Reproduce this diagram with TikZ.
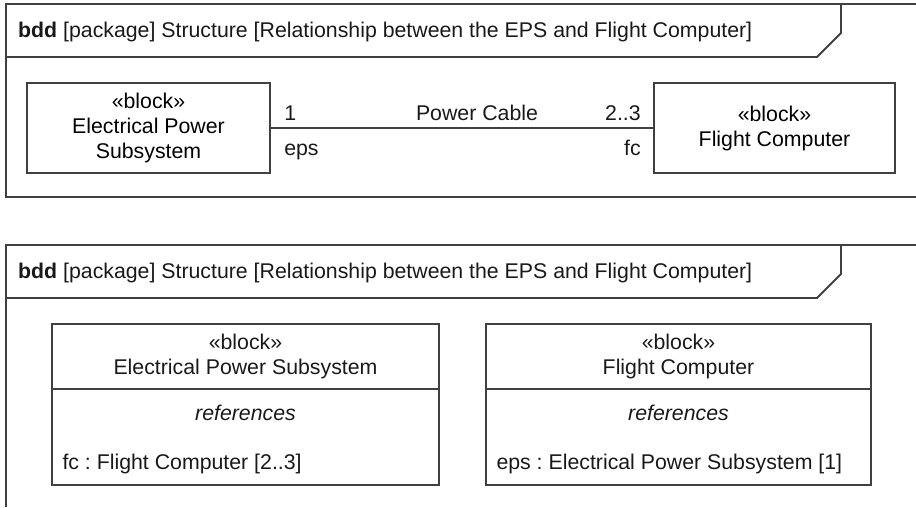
\documentclass[tikz,border=0pt]{standalone}
\usepackage{fontspec}
\setmainfont{Liberation Sans}
\usepackage{tikz}
\usetikzlibrary{positioning}
\definecolor{lineclr}{gray}{0.25}
\frenchspacing

\tikzset{
  frameline/.style={draw=lineclr, line width=1.8pt},
  blockbox/.style={draw=lineclr, line width=1.4pt, rectangle, inner sep=0pt},
  blockline/.style={draw=lineclr, line width=1.4pt},
  link/.style={draw=lineclr, line width=1.2pt},
  lbl/.style={inner sep=0pt, text=black!90}
}

\begin{document}
\begin{tikzpicture}[x=1pt, y=-1pt, font=\fontsize{21.3}{25}\selectfont]
        \useasboundingbox (0,0) rectangle (916,507);

        % Draw frames
        \draw[frameline] (916,4) -- (6,4) -- (6,197) -- (916,197);
        \draw[frameline] (916,245) -- (6,245) -- (6,507);
        % Frame headers
        \foreach \t in {4,245} {
          \draw[frameline] (6,\t+53) -- (817,\t+53) -- (841,\t+29) -- (841,\t);
          \node[lbl, anchor=base west] (title\t) at (18,\t+33) {\textbf{bdd} [package] Structure [Relationship between the EPS and Flight Computer]};
        }

        % Upper diagram
        \node[blockbox, align=center, minimum width=243, minimum height=90] (epsT) at (148.5,128) {«block»\\Electrical Power\\Subsystem};
        \node[blockbox, align=center, minimum width=241, minimum height=90] (fcT) at (774.5,128) {«block»\\Flight Computer};
        \draw[link] (epsT) -- (fcT)
          node[lbl, pos=0.5, anchor=base, xshift=15pt, yshift=8pt] (cable) {Power Cable}
          node[lbl, at start, anchor=base west, xshift=13pt, yshift=8pt] (multA) {1}
          node[lbl, at start, anchor=base west, xshift=13pt, yshift=-27pt] (roleA) {eps}
          node[lbl, at end, anchor=base east, xshift=-12pt, yshift=8pt] (multB) {2..3}
          node[lbl, at end, anchor=base east, xshift=-12pt, yshift=-27pt] (roleB) {fc};

        % Lower diagram
        \node[blockbox, minimum width=387, minimum height=161] (epsB) at (245.5,404.5) {};
        \node[lbl, align=center] (epsBhead) at (epsB.north |- 0,356.5) {«block»\\Electrical Power Subsystem};
        \draw[blockline] (epsB.west |- 0,389) -- (epsB.east |- 0,389);
        \node[lbl] (epsBcomp) at (epsB.center |- 0,413) {\textit{references}};
        \node[lbl, anchor=west, xshift=11pt] (epsBref) at (epsB.west |- 0,464) {fc : Flight Computer [2..3]};

        \node[blockbox, minimum width=385, minimum height=161] (fcB) at (678.5,404.5) {};
        \node[lbl, align=center] (fcBhead) at (fcB.north |- 0,356.5) {«block»\\Flight Computer};
        \draw[blockline] (fcB.west |- 0,389) -- (fcB.east |- 0,389);
        \node[lbl] (fcBcomp) at (fcB.center |- 0,413) {\textit{references}};
        \node[lbl, anchor=west, xshift=11pt] (fcBref) at (fcB.west |- 0,464) {eps : Electrical Power Subsystem [1]};
    \end{tikzpicture}
\end{document}
